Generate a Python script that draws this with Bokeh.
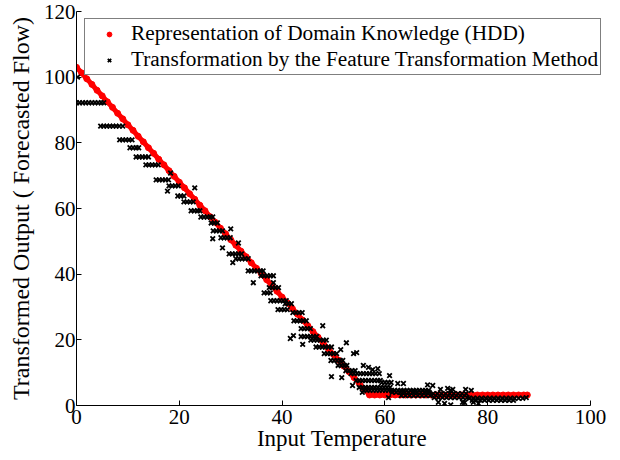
from bokeh.plotting import figure
from bokeh.models import Legend, LegendItem, Range1d, FixedTicker
from bokeh.embed import file_html
from bokeh.resources import INLINE

# ---------------- data ----------------
x_ticks = [0, 20, 40, 60, 80, 100]
y_ticks = [0, 20, 40, 60, 80, 100, 120]

x_label = "Input Temperature"
y_label = "Transformed Output ( Forecasted Flow)"
red_label = "Representation of Domain Knowledge (HDD)"
black_label = "Transformation by the Feature Transformation Method"

# Representation of Domain Knowledge (HDD)
red_x = [0, 1, 2, 3, 4, 5, 6, 7, 8, 9, 10, 11, 12, 13, 14, 15, 16, 17, 18, 19,
         20, 21, 22, 23, 24, 25, 26, 27, 28, 29, 30, 31, 32, 33, 34, 35, 36, 37, 38, 39,
         40, 41, 42, 43, 44, 45, 46, 47, 48, 49, 50, 51, 52, 53, 54, 55, 56, 57,
         58, 59, 60, 61, 62, 63, 64, 65, 66, 67, 68, 69, 70, 71, 72, 73, 74, 75, 76, 77,
         78, 79, 80, 81, 82, 83, 84, 85, 86, 87, 87.7]
red_y = [103.0, 101.3, 99.5, 97.8, 96.0, 94.3, 92.5, 90.8, 89.0, 87.3,
         85.5, 83.8, 82.0, 80.3, 78.5, 76.8, 75.0, 73.3, 71.5, 69.8,
         68.0, 66.3, 64.5, 62.8, 61.0, 59.3, 57.5, 55.8, 54.0, 52.3,
         50.5, 48.8, 47.0, 45.3, 43.5, 41.8, 40.0, 38.3, 36.5, 34.8,
         33.0, 31.3, 29.5, 27.8, 26.0, 24.3, 22.5, 20.8, 19.0, 17.3,
         15.5, 13.8, 12.0, 10.3, 8.5, 6.8, 5.0, 3.2,
         3.2, 3.2, 3.2, 3.2, 3.2, 3.2, 3.2, 3.2, 3.2, 3.2, 3.2, 3.2, 3.2, 3.2, 3.2, 3.2,
         3.2, 3.2, 3.2, 3.2, 3.2, 3.2, 3.2, 3.2, 3.2, 3.2, 3.2, 3.2, 3.2, 3.2, 3.2]

# Transformation by the Feature Transformation Method (x, y)
black_points = [
    (0.2, 100.0),
    (0.0, 92.2), (0.6, 92.2), (1.2, 92.2), (1.8, 92.2), (2.4, 92.2), (3.0, 92.2), (3.6, 92.2), (4.2, 92.2), (4.8, 92.2), (5.3, 92.2),
    (4.7, 85.1), (5.3, 85.1), (5.9, 85.1), (6.5, 85.1), (7.1, 85.1), (7.7, 85.1), (8.3, 85.1), (9.0, 85.1),
    (8.4, 80.9), (9.0, 80.9), (9.6, 80.9), (10.2, 80.9), (10.8, 80.9),
    (10.4, 78.5), (11.0, 78.5), (11.6, 78.5), (12.1, 78.5),
    (11.6, 75.7), (12.2, 75.7), (12.8, 75.7), (13.4, 75.7), (14.0, 75.7),
    (13.5, 73.3), (14.1, 73.3), (14.7, 73.3), (15.3, 73.3), (15.9, 73.3),
    (18.3, 70.8),
    (15.5, 68.7), (16.1, 68.7), (16.7, 68.7), (17.3, 68.7), (17.9, 68.7),
    (17.7, 65.3),
    (18.0, 66.9), (18.6, 66.9), (19.2, 66.9), (19.8, 66.9),
    (23.0, 66.3),
    (19.7, 63.8), (20.3, 63.8), (20.9, 63.8),
    (20.9, 62.0), (21.5, 62.0), (22.1, 62.0), (22.7, 62.0),
    (22.3, 59.3), (22.9, 59.3), (23.5, 59.3), (24.0, 59.3),
    (24.2, 57.4), (24.8, 57.4), (25.4, 57.4), (26.0, 57.4), (26.5, 57.4),
    (26.2, 55.6), (26.8, 55.6), (27.4, 55.6),
    (26.6, 53.2), (27.2, 53.2), (27.8, 53.2), (28.4, 53.2),
    (30.0, 53.8), (26.5, 50.8), (28.4, 48.0),
    (28.1, 51.1), (28.7, 51.1), (29.3, 51.1), (29.9, 51.1),
    (31.5, 49.5),
    (29.7, 46.2), (30.3, 46.2), (30.9, 46.2), (31.5, 46.2), (32.1, 46.2),
    (31.0, 44.7), (31.6, 44.7), (32.2, 44.7), (32.8, 44.7), (33.4, 44.7),
    (30.4, 43.5),
    (33.4, 41.0), (34.0, 41.0), (34.6, 41.0), (35.2, 41.0), (35.8, 41.0), (36.3, 41.0),
    (34.4, 37.4),
    (35.9, 39.5), (36.5, 39.5), (37.1, 39.5), (37.7, 39.5), (38.3, 39.5),
    (38.3, 37.4),
    (37.5, 35.9), (38.1, 35.9), (38.7, 35.9), (39.3, 35.9),
    (36.5, 34.3), (37.1, 34.3), (37.7, 34.3),
    (37.8, 31.9), (38.4, 31.9), (39.0, 31.9), (39.6, 31.9), (40.2, 31.9), (40.8, 31.9),
    (40.6, 31.0), (41.2, 31.0), (41.8, 31.0),
    (39.2, 29.2), (39.8, 29.2), (40.4, 29.2), (41.0, 29.2),
    (42.1, 28.3), (42.7, 28.3), (43.3, 28.3), (43.9, 28.3),
    (42.3, 25.8), (42.9, 25.8), (43.5, 25.8), (44.1, 25.8), (44.7, 25.8),
    (47.9, 24.3),
    (43.7, 23.4), (44.3, 23.4), (44.9, 23.4), (45.5, 23.4),
    (41.6, 20.4), (42.2, 21.3), (44.0, 18.6),
    (43.7, 21.0), (44.3, 21.0), (44.9, 21.0), (45.5, 21.0), (46.1, 21.0), (46.7, 21.0),
    (45.6, 19.9), (46.2, 19.9), (46.8, 19.9), (47.4, 19.9), (48.0, 19.9), (48.6, 19.9),
    (46.6, 17.8), (47.2, 17.8), (47.8, 17.8), (48.4, 17.8), (49.0, 17.8), (49.6, 17.8),
    (52.5, 19.1), (51.4, 17.0), (53.9, 15.8), (54.5, 16.1),
    (48.2, 15.8), (48.8, 15.8), (49.4, 15.8), (50.0, 15.8), (50.6, 15.8),
    (49.5, 13.7), (50.1, 13.7), (50.7, 13.7), (51.3, 13.7), (51.8, 13.7),
    (50.9, 12.2), (51.5, 12.2), (52.1, 12.2), (52.6, 12.2),
    (49.6, 8.8), (51.6, 8.5),
    (52.4, 10.6), (53.0, 10.6), (53.6, 10.6), (54.2, 10.6),
    (53.4, 9.7), (54.0, 9.7), (54.6, 9.7), (55.2, 9.7), (55.8, 9.7), (56.4, 9.7), (57.0, 9.7), (57.6, 9.7), (58.2, 9.7), (58.9, 9.7),
    (55.8, 12.2), (57.6, 10.9), (58.6, 11.2), (60.9, 9.1), (56.8, 11.6),
    (54.4, 7.6), (55.0, 7.6), (55.6, 7.6), (56.2, 7.6), (56.8, 7.6), (57.4, 7.6), (58.0, 7.6), (58.6, 7.6), (59.1, 7.6),
    (59.4, 7.0), (60.0, 7.0), (60.6, 7.0), (61.2, 7.0),
    (53.7, 6.1),
    (55.0, 5.5), (55.6, 5.5), (56.2, 5.5), (56.8, 5.5), (57.4, 5.5), (58.0, 5.5), (58.6, 5.5), (59.2, 5.5), (59.8, 5.5), (60.4, 5.5), (61.0, 5.5),
    (55.9, 4.6), (56.5, 4.6), (57.1, 4.6), (57.7, 4.6), (58.3, 4.6), (58.9, 4.6), (59.5, 4.6), (60.1, 4.6), (60.7, 4.6), (61.3, 4.6), (61.9, 4.6),
    (62.5, 4.6), (63.1, 4.6), (63.7, 4.6), (64.3, 4.6), (64.9, 4.6), (65.5, 4.6), (66.1, 4.6), (66.7, 4.6), (67.3, 4.6), (67.9, 4.6), (68.5, 4.6),
    (60.7, 2.4), (55.6, 4.0),
    (61.4, 4.0), (62.2, 4.0), (63.0, 4.0), (63.8, 4.0), (64.6, 4.0), (65.4, 4.0), (66.2, 4.0), (67.0, 4.0), (67.8, 4.0), (68.6, 4.0),
    (63.6, 6.7), (62.5, 6.7), (68.3, 6.3), (69.3, 6.1),
    (63.2, 3.0), (64.0, 3.0), (64.8, 3.0), (65.6, 3.0), (66.4, 3.0), (67.2, 3.0), (68.0, 3.0), (68.8, 3.0),
    (69.4, 3.6), (70.2, 3.6), (71.0, 3.6), (71.8, 3.6), (72.6, 3.6), (73.4, 3.6), (74.2, 3.6), (75.0, 3.6), (75.8, 3.6),
    (70.8, 4.9), (72.2, 5.2), (72.8, 4.6), (75.7, 4.9), (76.8, 4.6), (73.2, 4.9),
    (69.6, 2.4), (70.4, 2.4), (71.2, 2.4), (72.0, 2.4), (72.8, 2.4), (73.6, 2.4), (74.4, 2.4), (75.2, 2.4), (76.0, 2.4),
    (76.4, 2.2), (77.2, 2.2), (78.0, 2.2), (78.8, 2.2), (79.6, 2.2), (80.4, 2.2), (81.2, 2.2), (82.0, 2.2), (82.8, 2.2),
    (83.6, 2.2), (84.4, 2.2), (85.2, 2.2), (86.0, 2.2), (86.8, 2.2),
    (77.0, 1.6), (77.8, 1.6), (78.6, 1.6), (79.4, 1.6), (80.2, 1.6), (81.0, 1.6), (81.8, 1.6), (82.6, 1.6), (83.4, 1.6), (84.2, 1.6), (85.0, 1.6),
    (70.4, 1.0), (71.6, 0.6), (72.8, 0.2), (75.1, 1.0), (75.5, 0.9), (77.2, 1.0), (78.2, 0.6),
    (87.5, 2.4),
]
black_x = [pt[0] for pt in black_points]
black_y = [pt[1] for pt in black_points]

# ---------------- figure ----------------
FONT = "Liberation Serif"

# the frame runs a little past x = 100 so the legend box (which sticks out to the
# right of the axis end in the original) is not clipped; the axis itself stops at 100
p = figure(width=620, height=460, output_backend="svg", toolbar_location=None,
           x_range=Range1d(0, 103.3), y_range=Range1d(0, 120),
           min_border_left=76, min_border_right=13, min_border_top=11, min_border_bottom=55)
p.outline_line_color = None
p.grid.visible = False
p.background_fill_color = "white"
p.border_fill_color = "white"

for ax in (p.xaxis[0], p.yaxis[0]):
    ax.major_tick_in = 5
    ax.major_tick_out = 0
    ax.minor_tick_line_color = None
    ax.axis_line_color = "black"
    ax.major_tick_line_color = "black"
    ax.major_label_text_font = FONT
    ax.major_label_text_font_size = "21px"
    ax.major_label_text_color = "black"
    ax.axis_label_text_font = FONT
    ax.axis_label_text_font_style = "normal"
    ax.axis_label_text_color = "black"

p.xaxis.bounds = (0, 100)
p.xaxis.axis_label_text_font_size = "23px"
p.yaxis.axis_label_text_font_size = "24px"
p.xaxis.ticker = FixedTicker(ticks=x_ticks)
p.yaxis.ticker = FixedTicker(ticks=y_ticks)
p.xaxis.axis_label = x_label
p.yaxis.axis_label = y_label
p.xaxis.major_label_standoff = 4
p.xaxis.axis_label_standoff = -1
p.yaxis.major_label_standoff = 1
p.yaxis.axis_label_standoff = 7

red_line = p.line(red_x, red_y, line_width=5, line_color="#ff0000")
red_pts = p.scatter(red_x, red_y, marker="circle", size=6, fill_color="#ff0000", line_color="#ff0000")
black_pts = p.scatter(black_x, black_y, marker="x", size=6.5, line_width=1.8, line_color="black")

legend = Legend(items=[
    LegendItem(label=red_label, renderers=[red_pts]),
    LegendItem(label=black_label, renderers=[black_pts]),
], location=(8, 330))
legend.label_text_font = FONT
legend.label_text_font_size = "21.3px"
legend.label_text_color = "black"
legend.padding = 2
legend.margin = 0
legend.spacing = 1
legend.label_height = 24
legend.glyph_height = 12
legend.glyph_width = 44
legend.label_standoff = 0
legend.border_line_color = "black"
legend.border_line_width = 1
legend.background_fill_color = "white"
legend.background_fill_alpha = 1.0
p.add_layout(legend, "center")

open("out.html", "w").write(file_html(p, INLINE))
